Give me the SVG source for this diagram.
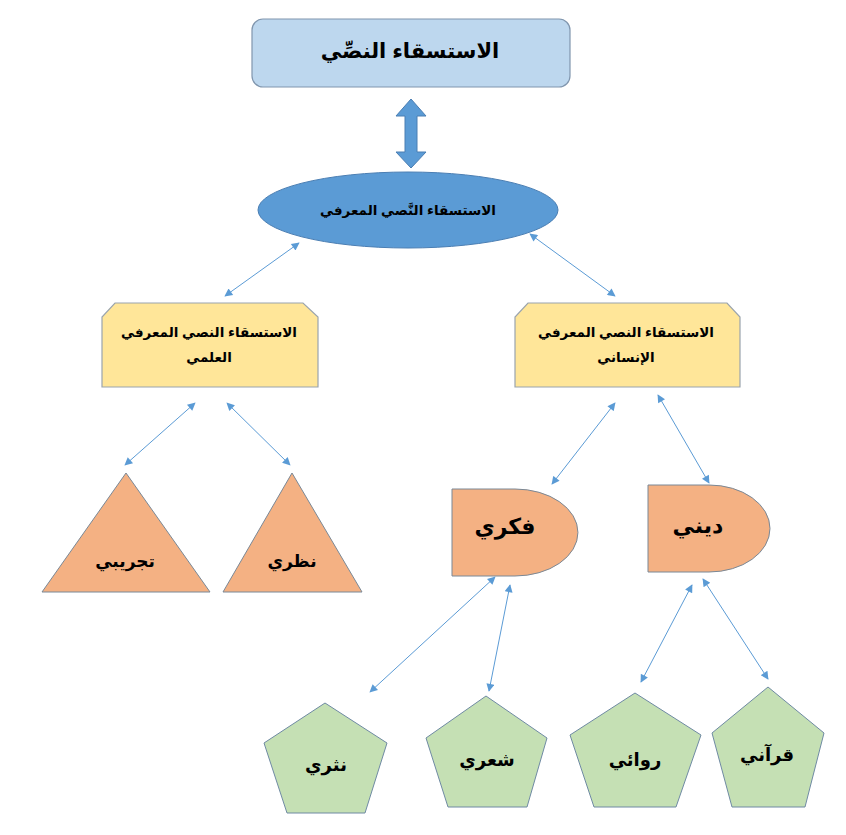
<svg xmlns="http://www.w3.org/2000/svg" width="846" height="835" viewBox="0 0 846 835">
<defs>
<marker id="ah" viewBox="0 0 10 10" refX="9" refY="5" markerWidth="10" markerHeight="8" markerUnits="userSpaceOnUse" orient="auto-start-reverse">
<path d="M0,0 L10,5 L0,10 Z" fill="#5B9BD5"/>
</marker>
</defs>
<style>
text{font-family:"Liberation Sans","DejaVu Sans",Arial,sans-serif;font-weight:bold;fill:#000;text-anchor:middle}
.conn line{stroke:#5B9BD5;stroke-width:1;marker-start:url(#ah);marker-end:url(#ah)}
.title{fill:#BDD7EE;stroke:#8096AE;stroke-width:1.2}
.ell{fill:#5B9BD5;stroke:#4A7EB3;stroke-width:1}
.yel{fill:#FFE699;stroke:#9AA4AE;stroke-width:1.2}
.org{fill:#F4B183;stroke:#7A8896;stroke-width:1}
.grn{fill:#C5E0B4;stroke:#6F8AA3;stroke-width:1}
</style>
<rect width="846" height="835" fill="#fff"/>
<g id="n-title">
<rect class="title" x="252" y="19" width="318" height="68" rx="11"/>
<text x="410" y="58" font-size="21" direction="rtl">الاستسقاء النصِّي</text>
</g>
<g id="blockarrow">
<polygon points="411,99 426,116 417,116 417,152 426,152 411,168 396,152 405,152 405,116 396,116" fill="#5B9BD5" stroke="#4A7EB3" stroke-width="1"/>
</g>
<g id="n-ellipse">
<ellipse class="ell" cx="408" cy="210" rx="150" ry="38"/>
<text x="408" y="215" font-size="13.5" direction="rtl">الاستسقاء النَّصي المعرفي</text>
</g>
<g id="n-left">
<polygon class="yel" points="115,303 303,303 318,317 318,387 102,387 102,317"/>
<text x="209" y="337" font-size="13.5" direction="rtl">الاستسقاء النصي المعرفي</text>
<text x="209" y="362" font-size="13.5" direction="rtl">العلمي</text>
</g>
<g id="n-right">
<polygon class="yel" points="528,303 727,303 740,317 740,387 515,387 515,317"/>
<text x="626" y="337" font-size="13.5" direction="rtl">الاستسقاء النصي المعرفي</text>
<text x="626" y="362" font-size="13.5" direction="rtl">الإنساني</text>
</g>
<g id="n-tajribi">
<polygon class="org" points="126,473 210,592 42,592"/>
<text x="125" y="567" font-size="17" direction="rtl">تجريبي</text>
</g>
<g id="n-nazari">
<polygon class="org" points="292,473 362,592 223,592"/>
<text x="292" y="567" font-size="17" direction="rtl">نظري</text>
</g>
<g id="n-fikri">
<path class="org" d="M452,489 H515 A63,43.5 0 0 1 515,576 H452 Z"/>
<text x="505" y="534" font-size="22" direction="rtl">فكري</text>
</g>
<g id="n-dini">
<path class="org" d="M648,485 H709 A61,43.5 0 0 1 709,572 H648 Z"/>
<text x="698" y="533" font-size="22" direction="rtl">ديني</text>
</g>
<g id="n-nathri">
<polygon class="grn" points="325,703 387,743 365,813 287,813 264,743"/>
<text x="326" y="771" font-size="18" direction="rtl">نثري</text>
</g>
<g id="n-shiri">
<polygon class="grn" points="486,696 547,738 527,807 448,807 426,738"/>
<text x="487" y="766" font-size="18" direction="rtl">شعري</text>
</g>
<g id="n-riwai">
<polygon class="grn" points="635,693 701,735 676,807 594,807 570,735"/>
<text x="635" y="766" font-size="18" direction="rtl">روائي</text>
</g>
<g id="n-qurani">
<polygon class="grn" points="768,687 824,733 805,807 732,807 712,733"/>
<text x="767" y="761" font-size="18" direction="rtl">قرآني</text>
</g>
<g id="connectors" class="conn">
<line x1="299" y1="243" x2="225" y2="296"/>
<line x1="530" y1="234" x2="615" y2="296"/>
<line x1="195" y1="403" x2="125" y2="465"/>
<line x1="227" y1="403" x2="290" y2="465"/>
<line x1="615" y1="403" x2="552" y2="484"/>
<line x1="658" y1="395" x2="709" y2="483"/>
<line x1="495" y1="577" x2="370" y2="692"/>
<line x1="510" y1="585" x2="489" y2="691"/>
<line x1="692" y1="585" x2="641" y2="682"/>
<line x1="703" y1="579" x2="768" y2="679"/>
</g>
</svg>
